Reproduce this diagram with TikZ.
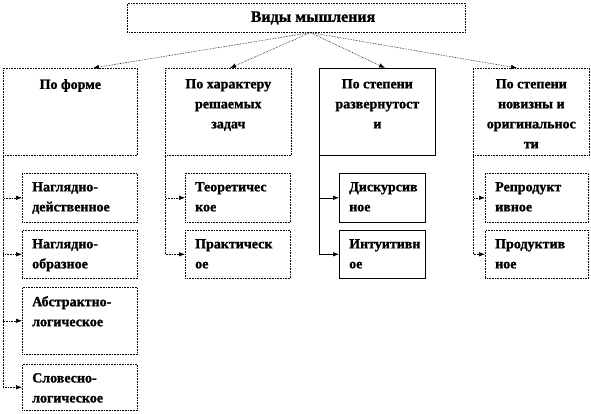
\documentclass[tikz,border=0pt]{standalone}
\usepackage{fontspec}
\setmainfont{Liberation Serif}[BoldFeatures={FakeBold=1.2}]
\usetikzlibrary{arrows.meta}

\tikzset{
  box/.style={draw, line width=.6pt, densely dotted, anchor=north west, inner sep=0pt},
  pont/.style={densely dotted},
  cheia/.style={solid},
  link/.style={line width=.6pt, densely dotted, -{Latex[length=6pt,width=4.5pt]}},
  txt/.style={font=\fontsize{14}{20}\selectfont\bfseries, align=left, anchor=north west, inner sep=0pt},
  cattxt/.style={txt, align=center, anchor=north},
  titulo/.style={font=\fontsize{16}{18}\selectfont\bfseries, inner sep=0pt}
}

\begin{document}
\begin{tikzpicture}[x=1pt,y=-1pt]
\useasboundingbox (0,0) rectangle (591,414);

% título
\node[box, minimum width=338, minimum height=29] (vidy) at (127,3) {};
\node[titulo] (tvidy) at (313,18) {Виды мышления};

% categorias
\foreach \c/\x/\w/\tip/\ls/\txt in {1/3/134/90/pont/{По форме},
    2/165/126/65/pont/{По характеру\\решаемых\\задач},
    3/319/116/66/cheia/{По степени\\развернутост\\и},
    4/473/116/44/pont/{По степени\\новизны и\\оригинальнос\\ти}} {
  \node[box, \ls, minimum width=\w, minimum height=87] (c\c) at (\x,68) {};
  \node[cattxt] (tc\c) at ([yshift=-11]c\c.north) {\txt};
  \draw[link] ([xshift=14]vidy.south) -- ([xshift=\tip]c\c.north west);
}

% por forma
\foreach \n/\y/\h/\txt in {1/173/49/{Наглядно-\\действенное},
    2/230/48/{Наглядно-\\образное},
    3/287/67/{Абстрактно-\\логическое},
    4/364/46/{Словесно-\\логическое}} {
  \node[box, minimum width=115, minimum height=\h] (s1-\n) at (22,\y) {};
  \node[txt] (ts1-\n) at ([shift={(10,9)}]s1-\n.north west) {\txt};
  \draw[link] (c1.south west) |- (s1-\n.west);
}

% outras colunas
\foreach \c/\x/\w/\ls/\ta/\tb in {2/185/105/pont/{Теоретичес\\кое}/{Практическ\\ое},
    3/339/86/cheia/{Дискурсив\\ное}/{Интуитивн\\ое},
    4/485/103/pont/{Репродукт\\ивное}/{Продуктив\\ное}} {
  \node[box, \ls, minimum width=\w, minimum height=49] (s\c-1) at (\x,173) {};
  \node[box, \ls, minimum width=\w, minimum height=48] (s\c-2) at (\x,230) {};
  \node[txt] (ts\c-1) at ([shift={(10,9)}]s\c-1.north west) {\ta};
  \node[txt] (ts\c-2) at ([shift={(10,9)}]s\c-2.north west) {\tb};
  \draw[link, \ls] (c\c.south west) |- (s\c-1.west);
  \draw[link, \ls] (c\c.south west) |- (s\c-2.west);
}

\end{tikzpicture}
\end{document}
